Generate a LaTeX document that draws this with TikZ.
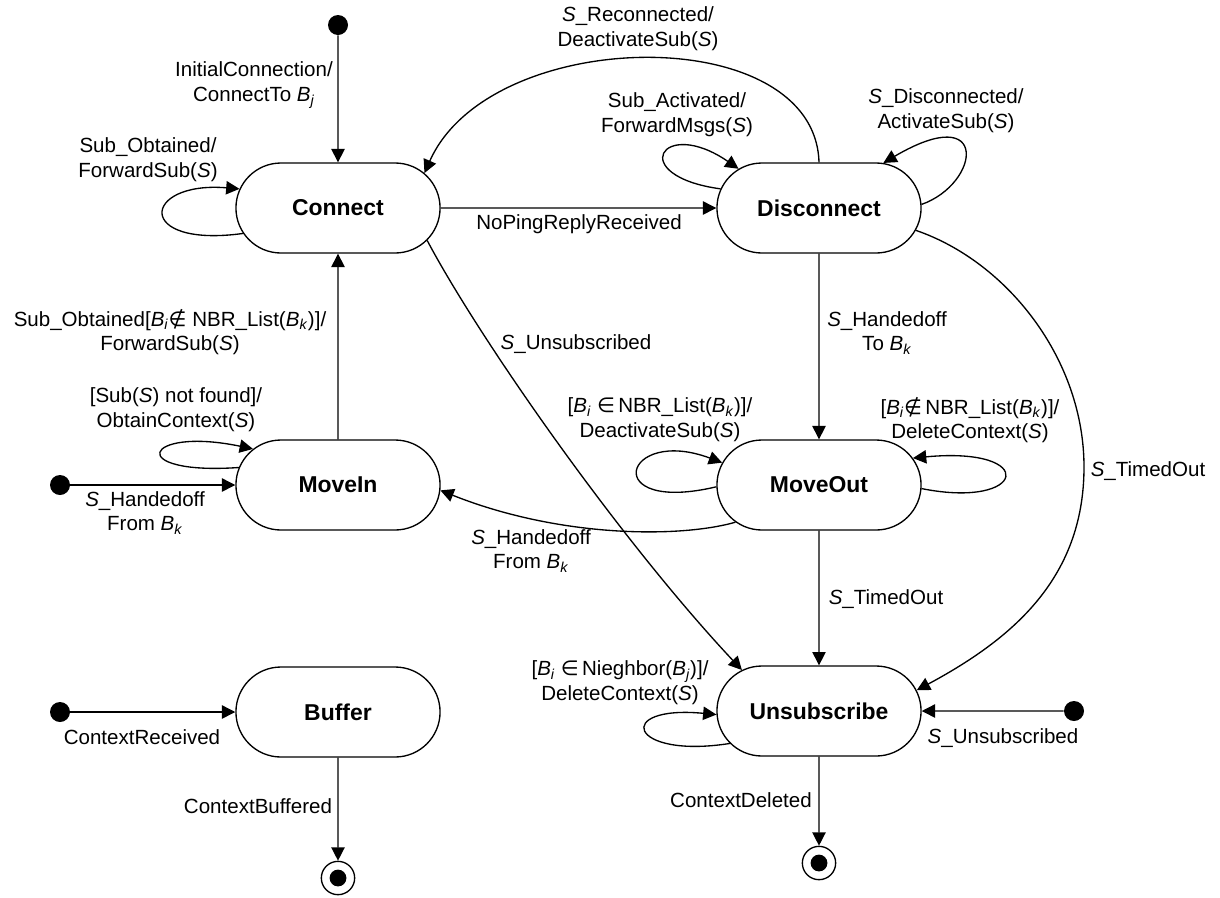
\documentclass[tikz,border=0pt]{standalone}
\usepackage{fontspec}
\setmainfont{Liberation Sans}
\newfontfamily\symfam{DejaVu Sans}
\usetikzlibrary{arrows.meta,shapes.misc}
% italic broker / subscription names
\newcommand{\Bs}[1]{\textit{B}\textsubscript{\textit{#1}}}
\newcommand{\Si}{\textit{S}}
\newcommand{\inset}{{\symfam ∈}}
\newcommand{\notinset}{{\symfam ∉}}
\begin{document}
\begin{tikzpicture}[x=0.75pt,y=-0.75pt,
  every node/.style={font=\fontsize{15.4}{18.5}\selectfont},
  state/.style={draw, line width=1pt, rounded rectangle, minimum width=159.75pt,
    minimum height=67.5pt, font=\fontsize{17.2}{20}\selectfont\bfseries},
  init/.style={circle, fill, inner sep=0pt, minimum size=15pt},
  final/.style={circle, draw, line width=1pt, inner sep=0pt, minimum size=25pt},
  tr/.style={draw, line width=1pt, -{Triangle[length=10pt,width=10pt]}},
  lbl/.style={align=center, inner sep=0pt},
]
\path[use as bounding box] (0,0) rectangle (1220,897);

% states
\node[state] (conn)  at (338,208) {Connect};
\node[state] (disc)  at (819,208) {Disconnect};
\node[state] (min)   at (338,485) {MoveIn};
\node[state] (mout)  at (819,485) {MoveOut};
\node[state] (buf)   at (338,712) {Buffer};
\node[state] (unsub) at (819,711) {Unsubscribe};

% pseudo states
\node[init] (i0) at (338,25) {};
\node[init] (i1) at (60,485) {};
\node[init] (i2) at (60,712) {};
\node[init] (i3) at (1074,711) {};
\node[final] (f1) at (338,878) {};
\node[final] (f2) at (819,863) {};
\fill (f1.center) circle (6.3pt);
\fill (f2.center) circle (6.3pt);

% straight transitions
\draw[tr] (i0) -- (conn);
\draw[tr] (i1) -- (min);
\draw[tr] (i2) -- (buf);
\draw[tr] (i3) -- (unsub);
\draw[tr] (conn) -- (disc);
\draw[tr] (disc) -- (mout);
\draw[tr] (min) -- (conn);
\draw[tr] (mout) -- (unsub);
\draw[tr] (buf) -- (f1);
\draw[tr] (unsub) -- (f2);

% curved transitions
\draw[tr] (disc.north) .. controls (815,20) and (490,25) .. (conn.22);
\draw[tr] (conn.-20) .. controls (480,340) and (620,540) .. (unsub.152);
\draw[tr] (disc.-13) .. controls (1008,262) and (1084,360) .. (1084,467)
                     .. controls (1084,580) and (1010,640) .. (unsub.12);
\draw[tr] (mout.204) .. controls (680,538) and (560,538) .. (min.-3);

% self transitions
\draw[tr] (conn.195) .. controls +(-109,15) and +(-98,-8) .. (conn.169);
\draw[tr] (disc.169) .. controls +(-95,-13) and +(-77,-53) .. (disc.154);
\draw[tr] (disc.2) .. controls +(59,-21) and +(107,-63) .. (disc.35);
\draw[tr] (min.170) .. controls +(-115,8) and +(-110,-23) .. (min.157);
\draw[tr] (mout.181) .. controls +(-118,28) and +(-99,-37) .. (mout.167);
\draw[tr] (mout.-2) .. controls +(105,21) and +(127,-12) .. (mout.16);
\draw[tr] (unsub.200) .. controls +(-102,16) and +(-103,-10) .. (unsub.182);

% transition labels
\node[lbl] (t1)  at (254,85)  {InitialConnection/\\ConnectTo \Bs{j}};
\node[lbl] (t2)  at (148,160) {Sub\_Obtained/\\ForwardSub(\Si)};
\node[lbl] (t3)  at (638,29)  {\Si\_Reconnected/\\DeactivateSub(\Si)};
\node[lbl] (t4)  at (677,115) {Sub\_Activated/\\ForwardMsgs(\Si)};
\node[lbl] (t5)  at (946,111) {\Si\_Disconnected/\\ActivateSub(\Si)};
\node[lbl] (t6)  at (579,224) {NoPingReplyReceived};
\node[lbl] (t7)  at (576,344) {\Si\_Unsubscribed};
\node[lbl] (t8)  at (887,333) {\Si\_Handedoff\\To \Bs{k}};
\node[lbl] (t9)  at (1148,471) {\Si\_TimedOut};
\node[lbl] (t10) at (170,332) {Sub\_Obtained[\Bs{i}\notinset\ NBR\_List(\Bs{k})]/\\ForwardSub(\Si)};
\node[lbl] (t11) at (176,410) {[Sub(\Si) not found]/\\ObtainContext(\Si)};
\node[lbl] (t12) at (145,513) {\Si\_Handedoff\\From \Bs{k}};
\node[lbl] (t13) at (660,420) {[\Bs{i} \inset\,NBR\_List(\Bs{k})]/\\DeactivateSub(\Si)};
\node[lbl] (t14) at (970,420) {[\Bs{i}\notinset\,NBR\_List(\Bs{k})]/\\DeleteContext(\Si)};
\node[lbl] (t15) at (531,551) {\Si\_Handedoff\\From \Bs{k}};
\node[lbl] (t16) at (886,599) {\Si\_TimedOut};
\node[lbl] (t17) at (620,683) {[\Bs{i} \inset\,Nieghbor(\Bs{j})]/\\DeleteContext(\Si)};
\node[lbl] (t18) at (1003,738) {\Si\_Unsubscribed};
\node[lbl] (t19) at (142,737) {ContextReceived};
\node[lbl] (t20) at (258,806) {ContextBuffered};
\node[lbl] (t21) at (741,800) {ContextDeleted};
\end{tikzpicture}
\end{document}
